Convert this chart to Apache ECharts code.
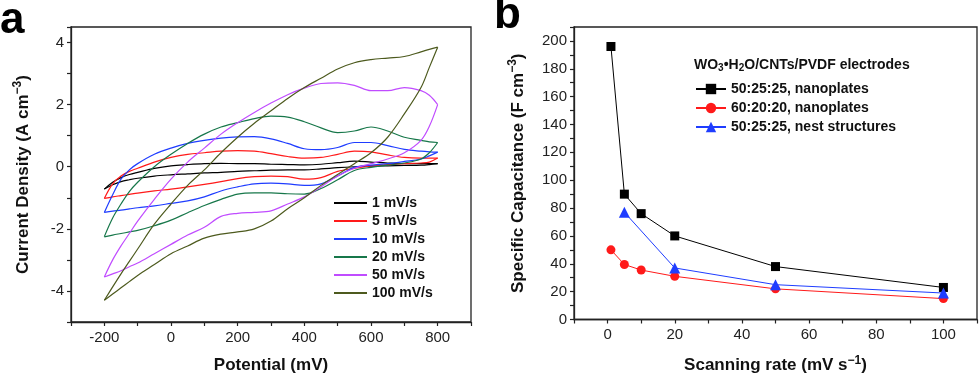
<!DOCTYPE html>
<html><head><meta charset="utf-8">
<script src="https://cdn.jsdelivr.net/npm/echarts@6/dist/echarts.min.js"></script>
<style>html,body{margin:0;padding:0;background:#fff}#c{width:980px;height:379px}</style>
</head><body><div id="c"></div>
<script>
// ---------- Panel a: CV curves ----------
const potential = [-200,-175,-150,-125,-100,-50,0,50,100,150,200,250,300,350,400,450,500,550,600,650,700,750,775,800];
const rateNames = ['1 mV/s','5 mV/s','10 mV/s','20 mV/s','50 mV/s','100 mV/s'];
const rateColors = ['#000000','#ff1a1a','#1f3dff','#17774a','#c04cff','#4d5a1e'];
const anodic1   = [-0.72,-0.5,-0.35,-0.25,-0.18,-0.05,0.03,0.07,0.1,0.11,0.1,0.1,0.08,0.07,0.06,0.08,0.13,0.18,0.15,0.12,0.1,0.1,0.1,0.1];
const cathodic1 = [-0.72,-0.58,-0.48,-0.42,-0.37,-0.3,-0.26,-0.23,-0.2,-0.18,-0.15,-0.13,-0.11,-0.1,-0.1,-0.07,-0.03,0.0,0.02,0.03,0.04,0.05,0.07,0.1];
const anodic5   = [-1.02,-0.55,-0.3,-0.15,-0.05,0.15,0.3,0.4,0.45,0.5,0.52,0.5,0.42,0.33,0.28,0.3,0.4,0.5,0.48,0.38,0.3,0.28,0.28,0.28];
const cathodic5 = [-1.02,-0.97,-0.93,-0.89,-0.85,-0.78,-0.72,-0.65,-0.57,-0.48,-0.38,-0.32,-0.3,-0.32,-0.4,-0.35,-0.15,-0.05,0.03,0.07,0.1,0.12,0.15,0.28];
const anodic10   = [-1.47,-0.9,-0.4,-0.1,0.1,0.4,0.6,0.75,0.85,0.92,0.96,0.97,0.9,0.75,0.58,0.55,0.62,0.78,0.78,0.68,0.56,0.5,0.48,0.47];
const cathodic10 = [-1.47,-1.43,-1.4,-1.36,-1.32,-1.26,-1.18,-1.1,-0.97,-0.78,-0.65,-0.55,-0.53,-0.55,-0.6,-0.55,-0.3,-0.02,0.05,0.1,0.17,0.25,0.35,0.47];
const anodic20   = [-2.25,-1.65,-1.2,-0.8,-0.5,0.0,0.4,0.75,1.05,1.28,1.42,1.55,1.63,1.6,1.45,1.25,1.1,1.15,1.28,1.15,0.95,0.85,0.8,0.78];
const cathodic20 = [-2.26,-2.2,-2.15,-2.1,-2.05,-1.9,-1.72,-1.48,-1.25,-1.05,-0.88,-0.84,-0.84,-0.87,-0.88,-0.7,-0.42,-0.12,-0.02,0.05,0.12,0.25,0.45,0.78];
const anodic50   = [-3.55,-3.0,-2.55,-2.15,-1.75,-1.05,-0.4,0.15,0.6,1.05,1.42,1.75,2.05,2.32,2.53,2.68,2.7,2.62,2.45,2.45,2.55,2.45,2.3,2.0];
const cathodic50 = [-3.55,-3.45,-3.35,-3.22,-3.1,-2.8,-2.5,-2.2,-1.95,-1.6,-1.5,-1.47,-1.42,-1.2,-0.97,-0.65,-0.3,-0.05,0.1,0.25,0.45,0.85,1.3,2.0];
const anodic100   = [-4.3,-3.87,-3.45,-3.05,-2.65,-1.85,-1.2,-0.6,-0.1,0.45,0.95,1.4,1.8,2.2,2.55,2.85,3.15,3.35,3.45,3.5,3.55,3.7,3.78,3.85];
const cathodic100 = [-4.3,-4.1,-3.9,-3.7,-3.5,-3.15,-2.8,-2.55,-2.3,-2.17,-2.1,-2.0,-1.75,-1.35,-1.0,-0.6,-0.25,0.1,0.45,0.95,1.7,2.55,3.2,3.85];
const anodicAll = [anodic1,anodic5,anodic10,anodic20,anodic50,anodic100];
const cathodicAll = [cathodic1,cathodic5,cathodic10,cathodic20,cathodic50,cathodic100];
const xTicksA = [-200,0,200,400,600,800];
const yTicksA = [-4,-2,0,2,4];

// ---------- Panel b: capacitance ----------
const rateB1 = [1,5,10,20,50,100];
const capB1 = [196,90,76,60,38,23];           // 50:25:25, nanoplates
const rateB2 = [1,5,10,20,50,100];
const capB2 = [50,39.5,35.5,31,22,15];        // 60:20:20, nanoplates
const rateB3 = [5,20,50,100];
const capB3 = [77,37,25,19];                  // 50:25:25, nest structures
const namesB = ['50:25:25, nanoplates','60:20:20, nanoplates','50:25:25, nest structures'];
const colorsB = ['#000000','#ff1a1a','#1f3dff'];
const symbolsB = ['rect','circle','triangle'];
const xTicksB = [0,20,40,60,80,100];
const yTicksB = [0,20,40,60,80,100,120,140,160,180,200];

const FF = '"Liberation Sans", Arial, sans-serif';
const lbl = {fontFamily: FF, fontSize: 15, color: '#222'};
const nameRich = {
  t: {fontFamily: FF, fontSize: 17, fontWeight: 'bold', color: '#111'},
  sup: {fontFamily: FF, fontSize: 12, fontWeight: 'bold', color: '#111', padding: [0,0,10,0]}
};
const axLine = {onZero: false, lineStyle: {color: '#222', width: 1.3}};
const axTick = {length: 4, lineStyle: {color: '#222', width: 1.2}};

const series = [];
rateNames.forEach((n, i) => {
  const up = potential.map((p, k) => [p, anodicAll[i][k]]);
  const dn = potential.map((p, k) => [p, cathodicAll[i][k]]).reverse();
  [up, dn].forEach(d => series.push({
    type: 'line', name: n, xAxisIndex: 0, yAxisIndex: 0, data: d,
    smooth: 0.35, symbol: 'none', lineStyle: {color: rateColors[i], width: 1.2},
    itemStyle: {color: rateColors[i]}, z: 2 + i
  }));
});
const bData = [[rateB1, capB1],[rateB2, capB2],[rateB3, capB3]];
bData.forEach((d, i) => series.push({
  type: 'line', name: namesB[i], xAxisIndex: 1, yAxisIndex: 1,
  data: d[0].map((x, k) => [x, d[1][k]]),
  symbol: symbolsB[i], symbolSize: i === 2 ? 11 : 9,
  lineStyle: {color: colorsB[i], width: 1}, itemStyle: {color: colorsB[i]}
}));

const chart = echarts.init(document.getElementById('c'), null, {renderer: 'canvas'});
chart.setOption({
  animation: false,
  backgroundColor: '#fff',
  grid: [
    {left: 71, right: 509, top: 27, bottom: 57, show: true, borderColor: '#222', borderWidth: 1.3},
    {left: 574, right: 2, top: 27, bottom: 57, show: true, borderColor: '#222', borderWidth: 1.3}
  ],
  xAxis: [
    {type: 'value', gridIndex: 0, min: -300, max: 900, interval: 100,
     axisLine: axLine, axisTick: axTick, splitLine: {show: false},
     axisLabel: Object.assign({margin: 8, interval: 0, formatter: v => xTicksA.includes(v) ? String(v) : ''}, lbl),
     name: '{t|Potential (mV)}', nameLocation: 'middle', nameGap: 35, nameTextStyle: {rich: nameRich}},
    {type: 'value', gridIndex: 1, min: -10, max: 110, interval: 10,
     axisLine: axLine, axisTick: axTick, splitLine: {show: false},
     axisLabel: Object.assign({margin: 8, interval: 0, formatter: v => xTicksB.includes(v) ? String(v) : ''}, lbl),
     name: '{t|Scanning rate (mV s}{sup|−1}{t|)}', nameLocation: 'middle', nameGap: 35, nameTextStyle: {rich: nameRich}}
  ],
  yAxis: [
    {type: 'value', gridIndex: 0, min: -5, max: 4.5, interval: 1,
     axisLine: axLine, axisTick: axTick, splitLine: {show: false},
     axisLabel: Object.assign({margin: 7, interval: 0, formatter: v => yTicksA.includes(v) ? String(v) : ''}, lbl),
     name: '{t|Current Density (A cm}{sup|−3}{t|)}', nameLocation: 'middle', nameGap: 37, nameTextStyle: {rich: nameRich}},
    {type: 'value', gridIndex: 1, min: 0, max: 210, interval: 10,
     axisLine: axLine, axisTick: axTick, splitLine: {show: false},
     axisLabel: Object.assign({margin: 7, interval: 0, formatter: v => yTicksB.includes(v) ? String(v) : ''}, lbl),
     name: '{t|Specific Capacitance (F cm}{sup|−3}{t|)}', nameLocation: 'middle', nameGap: 45, nameTextStyle: {rich: nameRich}}
  ],
  legend: [
    {data: rateNames, orient: 'vertical', left: 334, top: 195, padding: 0, icon: 'rect',
     itemWidth: 33, itemHeight: 2, itemGap: 2,
     textStyle: {fontFamily: FF, fontSize: 14, fontWeight: 'bold', color: '#111', lineHeight: 16}},
    {data: namesB, orient: 'vertical', left: 695, top: 82, padding: 0, itemWidth: 30, itemHeight: 13, itemGap: 5,
     textStyle: {fontFamily: FF, fontSize: 14, fontWeight: 'bold', color: '#111'}}
  ],
  graphic: [
    {type: 'text', left: 0, top: -1, style: {text: 'a', font: 'bold 44px ' + FF, fill: '#000'}},
    {type: 'text', left: 494, top: -6, style: {text: 'b', font: 'bold 44px ' + FF, fill: '#000'}},
    {type: 'text', left: 694, top: 58, style: {
      text: '{n|WO}{s|3}{n|•H}{s|2}{n|O/CNTs/PVDF electrodes}',
      rich: {n: {fontFamily: FF, fontSize: 14, fontWeight: 'bold', fill: '#111'},
             s: {fontFamily: FF, fontSize: 10, fontWeight: 'bold', fill: '#111', padding: [7,0,0,0]}}}}
  ],
  series: series
});
</script></body></html>
